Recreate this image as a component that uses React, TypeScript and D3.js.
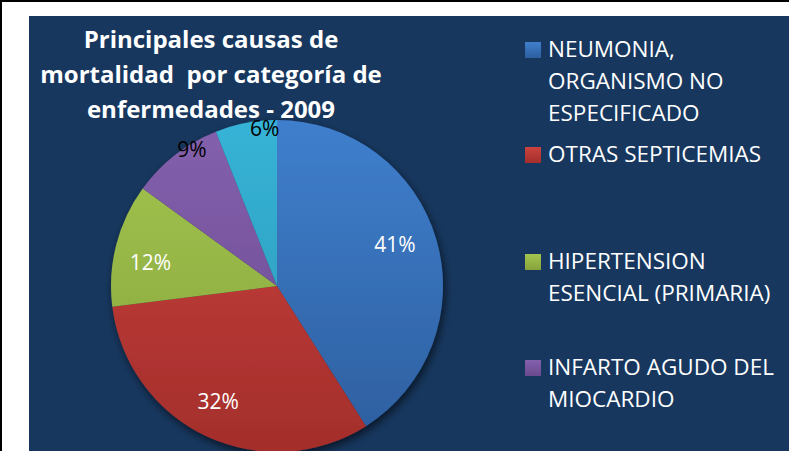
import React from "react";
import * as d3 from "d3";

const categories = [
  "NEUMONIA, ORGANISMO NO ESPECIFICADO",
  "OTRAS SEPTICEMIAS",
  "HIPERTENSION ESENCIAL (PRIMARIA)",
  "INFARTO AGUDO DEL MIOCARDIO",
  "OTRAS",
];
const values = [41, 32, 12, 9, 6];
const labels = ["41%", "32%", "12%", "9%", "6%"];
const legendLines = [
  ["NEUMONIA,", "ORGANISMO NO", "ESPECIFICADO"],
  ["OTRAS SEPTICEMIAS"],
  ["HIPERTENSION", "ESENCIAL (PRIMARIA)"],
  ["INFARTO AGUDO DEL", "MIOCARDIO"],
];
const titleLines = ["Principales causas de", "mortalidad  por categoría de", "enfermedades - 2009"];

const colorsTop = ["#3f7fcd", "#cc423e", "#a3c54f", "#8460ad", "#36b3d6"];
const colorsBot = ["#2d5e9e", "#a32e2b", "#86a33c", "#6a4a8e", "#2a97b6"];
const labelColors = ["#ffffff", "#ffffff", "#ffffff", "#000000", "#000000"];

const W = 789;
const H = 451;
const cx = 277;
const cy = 286;
const R = 166;

export default function App() {
  const pie = d3.pie<number>().sort(null).value((d) => d)(values);
  const arc = d3.arc<d3.PieArcDatum<number>>().innerRadius(0).outerRadius(R);
  const labelArc = d3.arc<d3.PieArcDatum<number>>().innerRadius(R * 0.62).outerRadius(R * 0.62);
  const labelOffsets = [
    [19, -13],
    [-15, 22],
    [-27, 2],
    [-22, -56],
    [7, -57],
  ];
  const legendY = [57, 162, 269, 375];
  const font = "'Open Sans', sans-serif";

  return (
    <svg width={W} height={H} style={{ position: "absolute", left: 0, top: 0 }}>
      <defs>
        {colorsTop.map((c, i) => (
          <linearGradient key={i} id={`g${i}`} gradientUnits="userSpaceOnUse" x1={0} y1={-R} x2={0} y2={R}>
            <stop offset="0" stopColor={c} />
            <stop offset="1" stopColor={colorsBot[i]} />
          </linearGradient>
        ))}
        {colorsTop.map((c, i) => (
          <linearGradient key={"l" + i} id={`lg${i}`} x1={0} y1={0} x2={0} y2={1}>
            <stop offset="0" stopColor={c} />
            <stop offset="1" stopColor={colorsBot[i]} />
          </linearGradient>
        ))}
        <filter id="shadow" x="-20%" y="-20%" width="140%" height="140%">
          <feGaussianBlur in="SourceAlpha" stdDeviation="4" />
          <feOffset dx="2" dy="4" result="b" />
          <feComponentTransfer>
            <feFuncA type="linear" slope="0.6" />
          </feComponentTransfer>
          <feMerge>
            <feMergeNode />
            <feMergeNode in="SourceGraphic" />
          </feMerge>
        </filter>
      </defs>
      <rect x={0} y={0} width={W} height={H} fill="#ffffff" />
      <line x1={0} y1={1} x2={W} y2={1} stroke="#000" strokeWidth={2} />
      <line x1={1} y1={0} x2={1} y2={H} stroke="#000" strokeWidth={2} />
      <rect x={29} y={16} width={W - 29} height={H - 16} fill="#17375e" />
      <g transform={`translate(${cx},${cy})`}>
        <g filter="url(#shadow)">
          {pie.map((d, i) => (
            <path key={i} d={arc(d) || ""} fill={`url(#g${i})`} />
          ))}
        </g>
      </g>
      {pie.map((d, i) => {
        const [lx, ly] = labelArc.centroid(d);
        return (
          <text
            key={"t" + i}
            x={cx + lx + labelOffsets[i][0]}
            y={cy + ly + labelOffsets[i][1]}
            textAnchor="middle"
            dominantBaseline="central"
            fill={labelColors[i]}
            fontFamily={font}
            fontSize={21}
          >
            {labels[i]}
          </text>
        );
      })}
      {titleLines.map((t, i) => (
        <text
          key={"title" + i}
          x={211}
          y={48 + i * 35}
          textAnchor="middle"
          fill="#ffffff"
          fontFamily={font}
          fontWeight="bold"
          fontSize={24}
          style={{ whiteSpace: "pre" }}
        >
          {t}
        </text>
      ))}
      {legendLines.map((lines, i) => (
        <g key={"lg" + i}>
          <rect x={525} y={legendY[i] - 15} width={16} height={16} fill={`url(#lg${i})`} />
          {lines.map((l, j) => (
            <text key={j} x={548} y={legendY[i] + j * 32} fill="#ffffff" fontFamily={font} fontSize={22.5}>
              {l}
            </text>
          ))}
        </g>
      ))}
    </svg>
  );
}
